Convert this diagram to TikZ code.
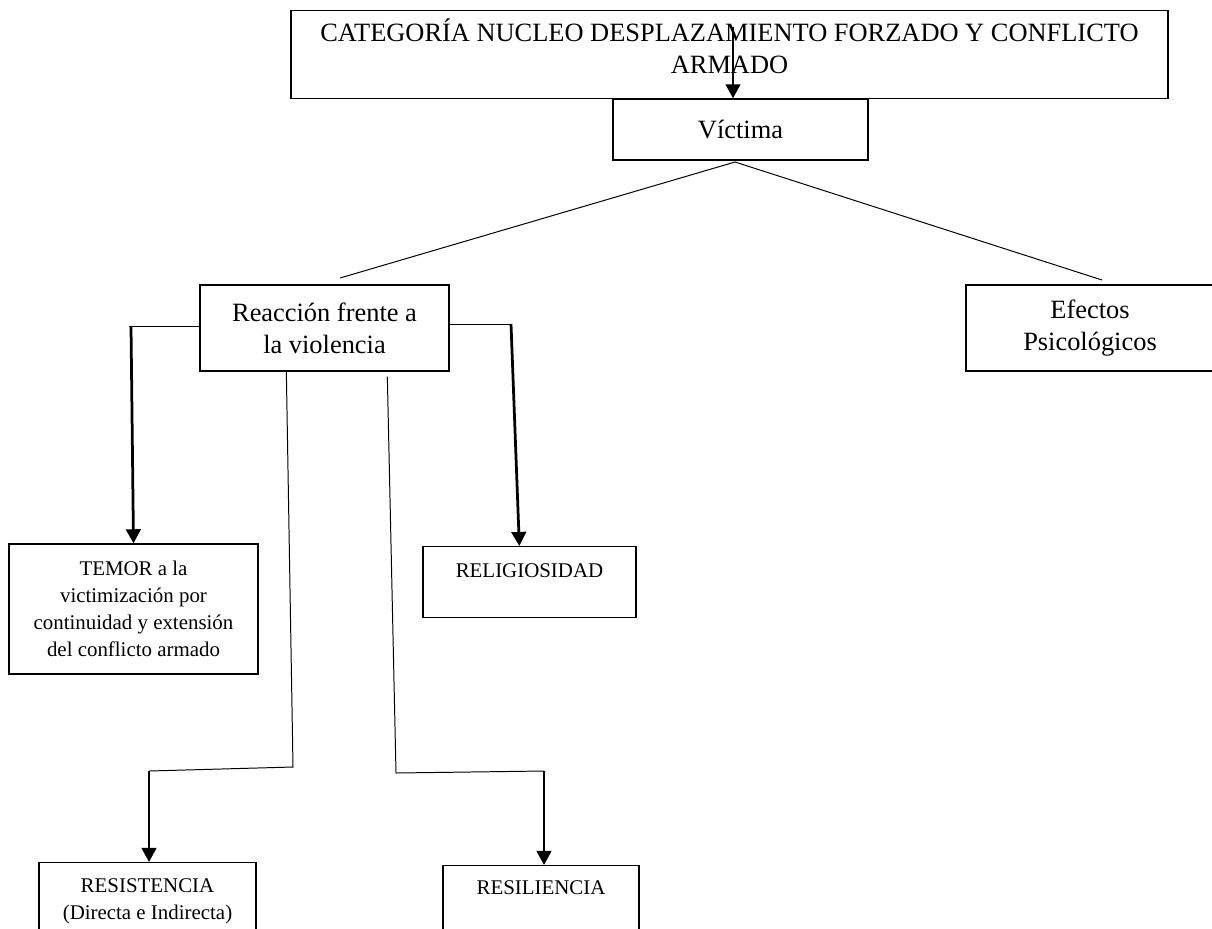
\documentclass[tikz,border=0pt]{standalone}
\usepackage{fontspec}
\setmainfont{Liberation Serif}
\usetikzlibrary{calc,arrows.meta}
\newcommand{\pxl}{0.4545pt}

\tikzset{
  box/.style={draw, line width=0.6pt, inner sep=0pt, align=center, font=\fontsize{12}{14.5}\selectfont},
  smallbox/.style={box, font=\fontsize{9.5}{12.2}\selectfont},
  link/.style={line width=0.45pt},
  down/.style={line width=1.25pt, ->}
}

\begin{document}
\begin{tikzpicture}[x=\pxl, y=-\pxl, >={Triangle[width=6.6pt,length=6.4pt]}]
    \useasboundingbox (0,0) rectangle (1212,928);

    \node[box, anchor=north, minimum width=877*\pxl, text height=28.5pt, text depth=11.5pt] (nucleo) at (729.5,10)
      {CATEGORÍA NUCLEO DESPLAZAMIENTO FORZADO Y CONFLICTO\\ARMADO};
    \node[box, minimum width=255*\pxl, minimum height=61*\pxl] (victima) at (740.5,129.5) {Víctima};
    \node[box, minimum width=249*\pxl, minimum height=86*\pxl] (reaccion) at (324.5,328)
      {Reacción frente a\\la violencia};
    \node[box, minimum width=248*\pxl, minimum height=86*\pxl] (efectos) at (1090,328)
      {Efectos\\Psicológicos};
    \node[smallbox, minimum width=249*\pxl, minimum height=130*\pxl] (temor) at (133.5,609)
      {TEMOR a la\\victimización por\\continuidad y extensión\\del conflicto armado};
    \node[smallbox, anchor=north, minimum width=213*\pxl, text height=14pt, text depth=18.3pt]
      (religiosidad) at (529.5,546) {RELIGIOSIDAD};
    \node[smallbox, anchor=north, minimum width=217*\pxl, minimum height=78*\pxl]
      (resistencia) at (147.5,862) {RESISTENCIA\\(Directa e Indirecta)};
    \node[smallbox, anchor=north, minimum width=196*\pxl, text height=13.2pt, text depth=25pt]
      (resiliencia) at (541,865) {RESILIENCIA};

    \coordinate (nucleoin) at (733,27);
    \coordinate (apex) at (735,162);
    \coordinate (reacciontop) at (340,278);
    \coordinate (efectostop) at (1102,280);
    \coordinate (lbend) at (129,326);
    \coordinate (lturn) at (131,326);
    \coordinate (rbend) at (511,324);
    \coordinate (lknee) at (293,767);
    \coordinate (lfoot) at (149,771);
    \coordinate (rknee) at (396,773);
    \coordinate (rfoot) at (544,771);

    \path (nucleoin)            edge[down] (victima.north -| nucleoin)
    (apex)                      edge[link] (reacciontop)
    (apex)                      edge[link] (efectostop)
    (reaccion.west |- lbend)    edge[link] (lbend)
    (lturn)                     edge[down] (temor.north)
    (reaccion.east |- rbend)    edge[link] (rbend)
    (rbend)                     edge[down] ($(religiosidad.north west)+(97,0)$)
    (lfoot)                     edge[down] (resistencia.north -| lfoot)
    (rfoot)                     edge[down] (resiliencia.north -| rfoot);

    \draw[link] ($(reaccion.south west)+(87,0)$) -- (lknee) -- (lfoot);
    \draw[link] ($(reaccion.south west)+(188,5)$) -- (rknee) -- (rfoot);
  \end{tikzpicture}
\end{document}
